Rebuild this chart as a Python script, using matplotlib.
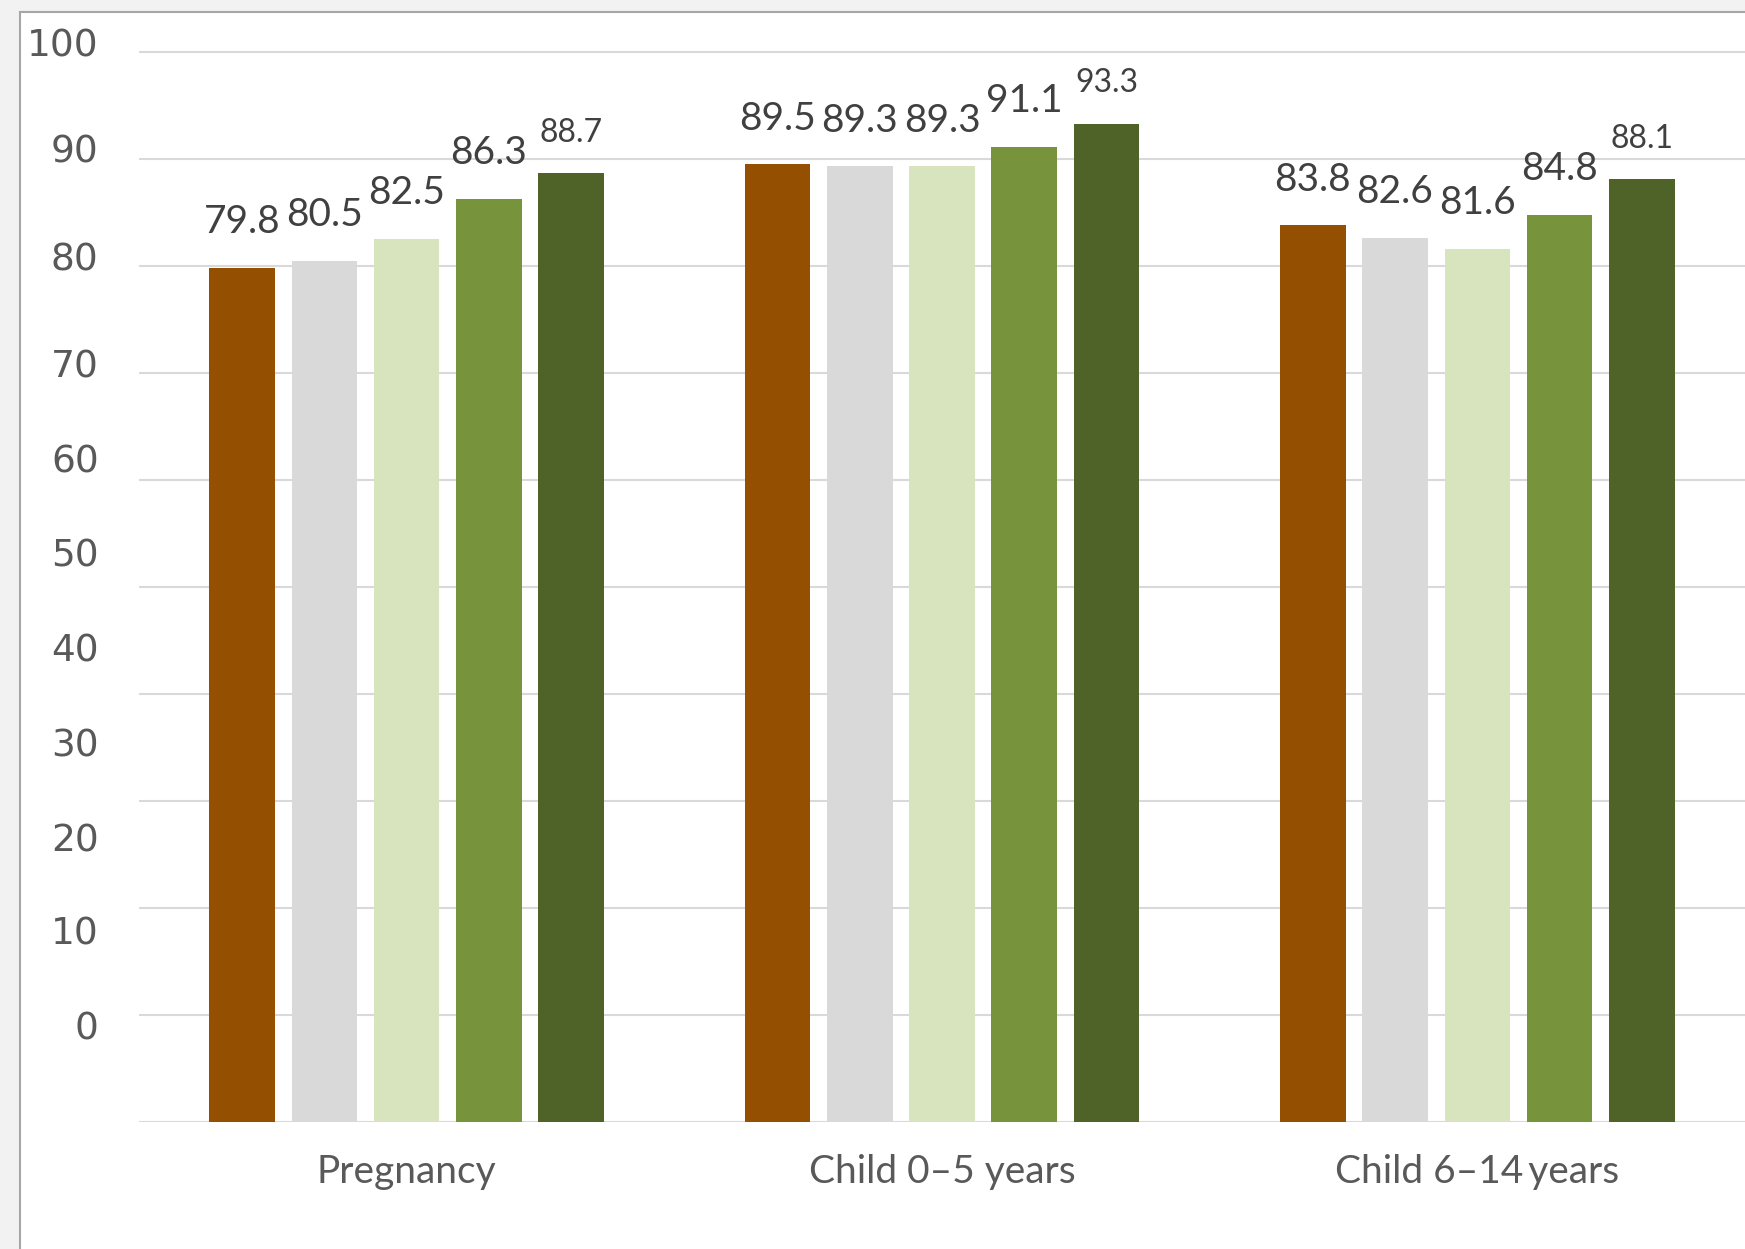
import numpy as np
import matplotlib.pyplot as plt
from matplotlib.patches import Rectangle

categories = ["Pregnancy", "Child 0\u20135 years", "Child 6\u201314\u2009years"]
series_1 = [79.8, 89.5, 83.8]
series_2 = [80.5, 89.3, 82.6]
series_3 = [82.5, 89.3, 81.6]
series_4 = [86.3, 91.1, 84.8]
series_5 = [88.7, 93.3, 88.1]
y_labels = ["100", "90", "80", "70", "60", "50", "40", "30", "20", "10", "0"]

# where the (oddly placed) y labels sit in the original
y_label_pos = [100.9, 91.0, 80.9, 70.9, 62.0, 53.2, 44.3, 35.5, 26.6, 17.9, 9.0]

colors = ["#954f00", "#d9d9d9", "#d8e4bd", "#77933c", "#4f6228"]
txt = "#404040"
axis_txt = "#595959"

W, H = 1745, 1249
fig = plt.figure(figsize=(W / 100, H / 100), dpi=100, facecolor="#f2f2f2")
fig.patches.append(Rectangle((20 / W, -0.05), 1.2, (H - 12) / H + 0.05,
                             transform=fig.transFigure, facecolor="white",
                             edgecolor="#a6a6a6", lw=1.5, zorder=-10))

# y from 0 to 101.5 so the top label stays visible; 100 lands at ~52 px
ytop = 101.5
px_per_unit = (1122 - 52) / 100
ax_top = 1122 - ytop * px_per_unit
ax = fig.add_axes([139 / W, (H - 1122) / H, 1.0 - 139 / W, (1122 - ax_top) / H])
ax.set_facecolor("none")
plt.rcParams['font.family'] = ['Lato', 'DejaVu Sans']

x = np.arange(len(categories))
width = 0.1225
step = 0.1537
all_series = [series_1, series_2, series_3, series_4, series_5]
for i, vals in enumerate(all_series):
    pos = x + (i - 2) * step
    bars = ax.bar(pos, vals, width, color=colors[i], zorder=3)
    small = (i == 4)
    for b, v in zip(bars, vals):
        ax.annotate(f"{v:.1f}", (b.get_x() + b.get_width() / 2, v),
                    xytext=(0, 29 if small else 33), textcoords="offset points",
                    ha="center", va="center", color=txt,
                    fontsize=23 if small else 28, family=['Lato', 'DejaVu Sans'])

ax.set_xticks(x, categories, fontsize=28, color=axis_txt, family=['Lato', 'DejaVu Sans'])
ax.tick_params(axis="x", length=0, pad=23)

ax.set_yticks(y_label_pos, y_labels, fontsize=27, color=axis_txt)
ax.set_yticks(np.arange(0, 101, 10), minor=True)
ax.tick_params(axis="y", which="both", length=0, pad=29)
ax.set_xlim(-0.5, 2.5)
ax.set_ylim(0, ytop)
ax.grid(False)
ax.grid(axis="y", which="minor", color="#d9d9d9", lw=1.5, zorder=0)
for s in ax.spines.values():
    s.set_visible(False)

plt.savefig("out.png", dpi=100, facecolor=fig.get_facecolor())
